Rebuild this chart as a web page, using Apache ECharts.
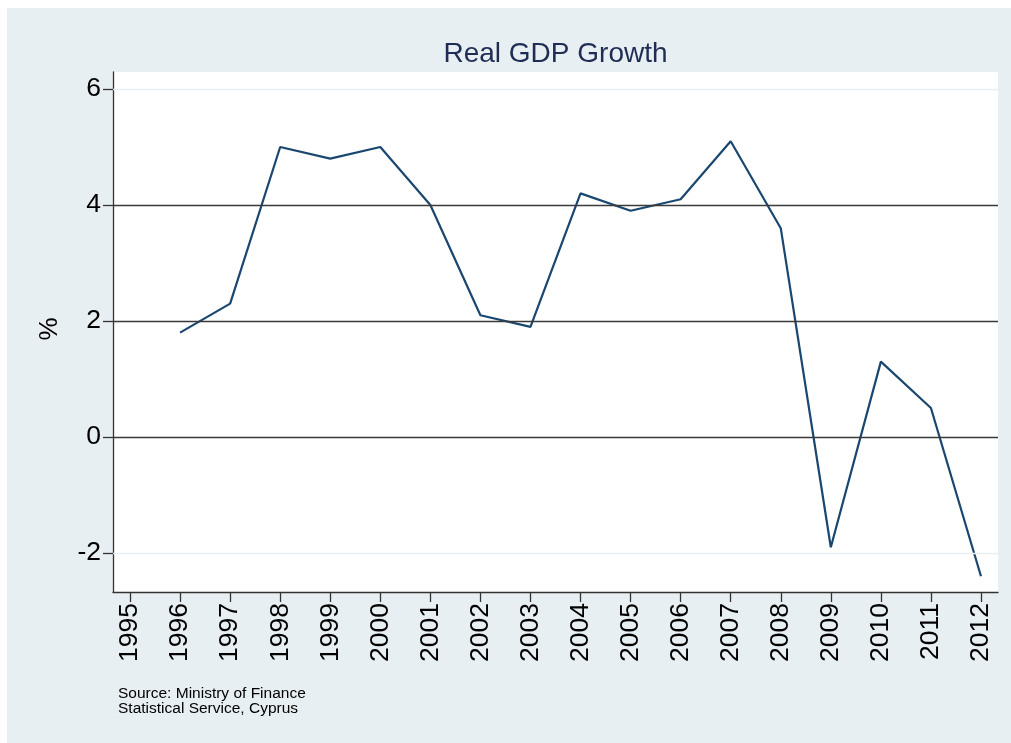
<!DOCTYPE html>
<html>
<head>
<meta charset="utf-8">
<script src="https://cdn.jsdelivr.net/npm/echarts@6/dist/echarts.min.js"></script>
<style>
html,body{margin:0;padding:0;background:#ffffff;width:1011px;height:743px;overflow:hidden;}
#c{position:absolute;left:7px;top:8px;width:1004px;height:735px;background:#e8eff2;}
</style>
</head>
<body>
<div id="c"></div>
<script>
const years = [1996,1997,1998,1999,2000,2001,2002,2003,2004,2005,2006,2007,2008,2009,2010,2011,2012];
const growth = [1.8,2.3,5.0,4.8,5.0,4.0,2.1,1.9,4.2,3.9,4.1,5.1,3.6,-1.9,1.3,0.5,-2.4];
const xTickYears = [1995,1996,1997,1998,1999,2000,2001,2002,2003,2004,2005,2006,2007,2008,2009,2010,2011,2012];
const yTicks = [-2,0,2,4,6];
const titleText = 'Real GDP Growth';
const yName = '%';
const sourceLines = ['Source: Ministry of Finance','Statistical Service, Cyprus'];

const font = '"Liberation Sans", Arial, Helvetica, sans-serif';
const chart = echarts.init(document.getElementById('c'), null, {renderer:'canvas'});
const lightGrid = '#e6eef1', darkGrid = '#3a3a3a';
const gridColor = v => (v === yTicks[0] || v === yTicks[yTicks.length-1]) ? lightGrid : darkGrid;

chart.setOption({
  backgroundColor: 'transparent',
  animation: false,
  grid: {left:106, top:64, right:13, bottom:151, containLabel:false, backgroundColor:'#ffffff', show:true, borderWidth:0},
  xAxis: {
    type:'value', min:1994.66, max:2012.34,
    axisLine:{show:true, onZero:false, lineStyle:{color:'#333333', width:1.3}},
    axisTick:{show:true, length:10, lineStyle:{color:'#333333', width:1.3}, customValues: xTickYears},
    axisLabel:{show:true, rotate:90, margin:11, fontSize:26.5, color:'#000000', fontFamily:font, customValues: xTickYears, formatter: v => String(v)},
    splitLine:{show:false}
  },
  yAxis: {
    type:'value', min:-2.672, max:6.293,
    axisLine:{show:true, onZero:false, lineStyle:{color:'#333333', width:1.3}},
    axisTick:{show:true, length:10, lineStyle:{color:'#333333', width:1.3}, customValues: yTicks},
    axisLabel:{show:true, margin:12, fontSize:26.5, color:'#000000', fontFamily:font, customValues: yTicks, formatter: v => String(v)},
    splitLine:{show:false}
  },
  series: [
    {
      type:'line', data:[], z:1, silent:true,
      markLine:{
        silent:true, symbol:['none','none'], label:{show:false}, animation:false,
        data: yTicks.map(v => ({yAxis:v, lineStyle:{color:gridColor(v), width:1.3, type:'solid'}}))
      }
    },
    {
      type:'line', z:3, symbol:'none', smooth:false,
      lineStyle:{color:'#1a476f', width:2.2},
      data: years.map((y,i) => [y, growth[i]])
    }
  ],
  graphic: [
    {type:'text', x:548.5, y:46, style:{text:titleText, fill:'#1f2d55', font:'28px '+font, align:'center', verticalAlign:'middle'}},
    {type:'text', x:43, y:321, rotation:Math.PI/2, style:{text:yName, fill:'#000000', font:'26px '+font, align:'center', verticalAlign:'middle'}},
    {type:'text', x:111, y:686, style:{text:sourceLines[0], fill:'#000000', font:'15.5px '+font, align:'left', verticalAlign:'middle'}},
    {type:'text', x:111, y:701, style:{text:sourceLines[1], fill:'#000000', font:'15.5px '+font, align:'left', verticalAlign:'middle'}}
  ]
});
</script>
</body>
</html>
